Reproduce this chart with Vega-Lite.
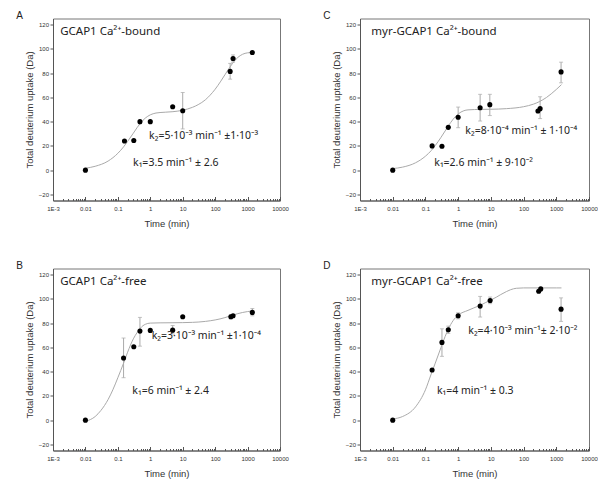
{
  "$schema": "https://vega.github.io/schema/vega-lite/v6.json",
  "background": "white",
  "padding": {"left": 15, "top": 9.5, "right": 0, "bottom": 0},
  "columns": 2,
  "spacing": {"column": 33, "row": 31},
  "datasets": {
    "ptsA": [
      {"t": 0.01, "v": 0}, {"t": 0.16, "v": 24}, {"t": 0.31, "v": 24.4}, {"t": 0.48, "v": 40}, {"t": 1, "v": 40},
      {"t": 4.9, "v": 52.3}, {"t": 10, "v": 49, "lo": 34, "hi": 64}, {"t": 290, "v": 81.4, "lo": 75, "hi": 88},
      {"t": 357, "v": 92, "lo": 89, "hi": 95}, {"t": 1400, "v": 97}
    ],
    "fitA": [
      {"t": 0.01, "v": 1.6}, {"t": 0.02, "v": 3.2}, {"t": 0.05, "v": 7.5}, {"t": 0.1, "v": 13.9}, {"t": 0.15, "v": 19.2},
      {"t": 0.2, "v": 23.7}, {"t": 0.3, "v": 30.5}, {"t": 0.4, "v": 35.4}, {"t": 0.5, "v": 38.8}, {"t": 0.7, "v": 42.9},
      {"t": 1, "v": 45.6}, {"t": 1.5, "v": 47.1}, {"t": 2, "v": 47.5}, {"t": 3, "v": 47.8}, {"t": 5, "v": 48.2},
      {"t": 10, "v": 49.4}, {"t": 20, "v": 51.8}, {"t": 30, "v": 54}, {"t": 50, "v": 58}, {"t": 70, "v": 61.8},
      {"t": 100, "v": 66.7}, {"t": 150, "v": 73.4}, {"t": 200, "v": 78.6}, {"t": 300, "v": 85.8}, {"t": 400, "v": 90.2},
      {"t": 500, "v": 92.9}, {"t": 700, "v": 95.5}, {"t": 1000, "v": 96.7}, {"t": 1440, "v": 97}
    ],
    "ptsC": [
      {"t": 0.01, "v": 0}, {"t": 0.16, "v": 20}, {"t": 0.32, "v": 19.7}, {"t": 0.5, "v": 35.3},
      {"t": 1, "v": 43.6, "lo": 35, "hi": 52}, {"t": 4.7, "v": 51.5, "lo": 40.5, "hi": 62.5},
      {"t": 9.3, "v": 54, "lo": 45, "hi": 62.5}, {"t": 275, "v": 48.8}, {"t": 320, "v": 50.7, "lo": 42.5, "hi": 60.5},
      {"t": 1400, "v": 81, "lo": 72, "hi": 89}
    ],
    "fitC": [
      {"t": 0.01, "v": 1.3}, {"t": 0.02, "v": 2.5}, {"t": 0.05, "v": 6.1}, {"t": 0.1, "v": 11.5}, {"t": 0.15, "v": 16.1},
      {"t": 0.2, "v": 20.3}, {"t": 0.3, "v": 27.1}, {"t": 0.4, "v": 32.3}, {"t": 0.5, "v": 36.4}, {"t": 0.7, "v": 41.9},
      {"t": 1, "v": 46.3}, {"t": 1.5, "v": 49}, {"t": 2, "v": 49.7}, {"t": 5, "v": 50.1}, {"t": 10, "v": 50.2},
      {"t": 30, "v": 50.7}, {"t": 100, "v": 52.3}, {"t": 200, "v": 54.4}, {"t": 300, "v": 56.4}, {"t": 500, "v": 59.9},
      {"t": 700, "v": 62.9}, {"t": 1000, "v": 66.5}, {"t": 1440, "v": 70.5}
    ],
    "ptsB": [
      {"t": 0.01, "v": 0}, {"t": 0.15, "v": 51.2, "lo": 35, "hi": 67.7}, {"t": 0.31, "v": 60.5},
      {"t": 0.48, "v": 73.4, "lo": 61, "hi": 84.7}, {"t": 1, "v": 74}, {"t": 4.9, "v": 74.2, "lo": 71, "hi": 78},
      {"t": 10, "v": 85.2}, {"t": 305, "v": 85.2, "lo": 83.5, "hi": 87}, {"t": 357, "v": 86},
      {"t": 1400, "v": 88.8, "lo": 86, "hi": 92}
    ],
    "fitB": [
      {"t": 0.01, "v": -1}, {"t": 0.02, "v": 3}, {"t": 0.03, "v": 8}, {"t": 0.05, "v": 17}, {"t": 0.07, "v": 25},
      {"t": 0.1, "v": 35}, {"t": 0.15, "v": 47}, {"t": 0.2, "v": 56}, {"t": 0.3, "v": 67}, {"t": 0.4, "v": 72.5},
      {"t": 0.5, "v": 76}, {"t": 0.7, "v": 79}, {"t": 1, "v": 80}, {"t": 2, "v": 80.2}, {"t": 5, "v": 80.3},
      {"t": 10, "v": 80.4}, {"t": 20, "v": 80.6}, {"t": 50, "v": 81.4}, {"t": 100, "v": 82.6}, {"t": 200, "v": 84.5},
      {"t": 300, "v": 86}, {"t": 500, "v": 87.8}, {"t": 1000, "v": 89.5}, {"t": 1440, "v": 90}
    ],
    "ptsD": [
      {"t": 0.01, "v": 0}, {"t": 0.16, "v": 41.4}, {"t": 0.32, "v": 64.1, "lo": 52.6, "hi": 75.3},
      {"t": 0.5, "v": 74.5, "lo": 71.5, "hi": 77.5}, {"t": 1, "v": 86, "lo": 83.5, "hi": 88.5},
      {"t": 4.7, "v": 94, "lo": 85, "hi": 102}, {"t": 9.5, "v": 98.6, "lo": 96, "hi": 101.5},
      {"t": 290, "v": 106.3}, {"t": 335, "v": 108.2}, {"t": 1400, "v": 91.5, "lo": 81.4, "hi": 100.8}
    ],
    "fitD": [
      {"t": 0.01, "v": 1}, {"t": 0.02, "v": 3}, {"t": 0.05, "v": 11}, {"t": 0.1, "v": 25}, {"t": 0.15, "v": 38},
      {"t": 0.2, "v": 47}, {"t": 0.3, "v": 60}, {"t": 0.4, "v": 69}, {"t": 0.5, "v": 75}, {"t": 0.7, "v": 82},
      {"t": 1, "v": 86.5}, {"t": 2, "v": 90.5}, {"t": 3, "v": 92.5}, {"t": 5, "v": 95}, {"t": 7, "v": 97},
      {"t": 10, "v": 99}, {"t": 15, "v": 101.5}, {"t": 20, "v": 103.5}, {"t": 30, "v": 106}, {"t": 40, "v": 107.5},
      {"t": 60, "v": 108.7}, {"t": 100, "v": 109}, {"t": 300, "v": 109}, {"t": 1000, "v": 109}, {"t": 1440, "v": 109}
    ],
    "notes": [
      {"panel": "A", "kind": "name", "t": 0.00166, "v": 111, "label": "GCAP1 Ca²⁺-bound"},
      {"panel": "A", "kind": "k", "t": 0.92, "v": 26, "label": "k₂=5·10⁻³ min⁻¹ ±1·10⁻³"},
      {"panel": "A", "kind": "k", "t": 0.295, "v": 3.3, "label": "k₁=3.5 min⁻¹ ± 2.6"},
      {"panel": "C", "kind": "name", "t": 0.00222, "v": 111, "label": "myr-GCAP1 Ca²⁺-bound"},
      {"panel": "C", "kind": "k", "t": 1.66, "v": 30.2, "label": "k₂=8·10⁻⁴ min⁻¹ ± 1·10⁻⁴"},
      {"panel": "C", "kind": "k", "t": 0.187, "v": 3.3, "label": "k₁=2.6 min⁻¹ ± 9·10⁻²"},
      {"panel": "B", "kind": "name", "t": 0.00166, "v": 111.2, "label": "GCAP1 Ca²⁺-free"},
      {"panel": "B", "kind": "k", "t": 1.11, "v": 66.5, "label": "k₂=3·10⁻³ min⁻¹ ±1·10⁻⁴"},
      {"panel": "B", "kind": "k", "t": 0.28, "v": 21.9, "label": "k₁=6 min⁻¹ ± 2.4"},
      {"panel": "D", "kind": "name", "t": 0.00222, "v": 111.2, "label": "myr-GCAP1 Ca²⁺-free"},
      {"panel": "D", "kind": "k", "t": 2.05, "v": 71.4, "label": "k₂=4·10⁻³ min⁻¹± 2·10⁻²"},
      {"panel": "D", "kind": "k", "t": 0.226, "v": 21.9, "label": "k₁=4 min⁻¹ ± 0.3"}
    ]
  },
  "concat": [
    {
      "width": 227, "height": 182,
      "title": {"text": "A", "anchor": "start", "frame": "bounds", "offset": 0, "dx": -8, "dy": 2},
      "encoding": {
        "x": {"field": "t", "type": "quantitative", "scale": {"type": "log", "domain": [0.001, 10000], "nice": false},
          "axis": {"title": "Time (min)", "values": [0.001,0.002,0.003,0.004,0.005,0.006,0.007,0.008,0.009,0.01,0.02,0.03,0.04,0.05,0.06,0.07,0.08,0.09,0.1,0.2,0.3,0.4,0.5,0.6,0.7,0.8,0.9,1,2,3,4,5,6,7,8,9,10,20,30,40,50,60,70,80,90,100,200,300,400,500,600,700,800,900,1000,2000,3000,4000,5000,6000,7000,8000,9000,10000],
            "labelExpr": "abs(log(datum.value)/LN10 - round(log(datum.value)/LN10)) < 0.001 ? (datum.value < 0.005 ? '1E-3' : '' + datum.value) : ''",
            "tickSize": {"condition": {"test": "abs(log(datum.value)/LN10 - round(log(datum.value)/LN10)) < 0.001", "value": -4}, "value": -2},
            "labelPadding": 9, "labelOverlap": false, "labelFlush": false, "titlePadding": 5}},
        "y": {"field": "v", "type": "quantitative", "scale": {"domain": [-25, 125], "nice": false, "zero": false},
          "axis": {"title": "Total deuterium uptake (Da)", "values": [-20,0,20,40,60,80,100,120], "tickSize": 3, "labelPadding": 1.5, "titlePadding": 4}}
      },
      "layer": [
        {"data": {"name": "fitA"}, "mark": {"type": "line", "color": "#aaaaaa", "strokeWidth": 1, "interpolate": "monotone"}},
        {"data": {"name": "ptsA"}, "mark": {"type": "rule", "color": "#aaaaaa", "strokeWidth": 1},
          "encoding": {"y": {"field": "lo", "type": "quantitative"}, "y2": {"field": "hi"}}},
        {"data": {"name": "ptsA"}, "mark": {"type": "tick", "orient": "horizontal", "size": 4, "thickness": 1, "color": "#aaaaaa"},
          "encoding": {"y": {"field": "lo", "type": "quantitative"}}},
        {"data": {"name": "ptsA"}, "mark": {"type": "tick", "orient": "horizontal", "size": 4, "thickness": 1, "color": "#aaaaaa"},
          "encoding": {"y": {"field": "hi", "type": "quantitative"}}},
        {"data": {"name": "ptsA"}, "mark": {"type": "circle", "size": 26, "color": "black", "opacity": 1}},
        {"data": {"name": "notes"}, "transform": [{"filter": "datum.panel == 'A' && datum.kind == 'name'"}],
          "mark": {"type": "text", "align": "left", "baseline": "alphabetic", "font": "Noto Sans", "fontSize": 11.5, "color": "#222222"},
          "encoding": {"text": {"field": "label", "type": "nominal"}}},
        {"data": {"name": "notes"}, "transform": [{"filter": "datum.panel == 'A' && datum.kind == 'k'"}],
          "mark": {"type": "text", "align": "left", "baseline": "alphabetic", "font": "Noto Sans", "fontSize": 10.5, "color": "#222222"},
          "encoding": {"text": {"field": "label", "type": "nominal"}}}
      ]
    },
    {
      "width": 229, "height": 182,
      "title": {"text": "C", "anchor": "start", "frame": "bounds", "offset": 0, "dx": -8, "dy": 2},
      "encoding": {
        "x": {"field": "t", "type": "quantitative", "scale": {"type": "log", "domain": [0.001, 10000], "nice": false},
          "axis": {"title": "Time (min)", "values": [0.001,0.002,0.003,0.004,0.005,0.006,0.007,0.008,0.009,0.01,0.02,0.03,0.04,0.05,0.06,0.07,0.08,0.09,0.1,0.2,0.3,0.4,0.5,0.6,0.7,0.8,0.9,1,2,3,4,5,6,7,8,9,10,20,30,40,50,60,70,80,90,100,200,300,400,500,600,700,800,900,1000,2000,3000,4000,5000,6000,7000,8000,9000,10000],
            "labelExpr": "abs(log(datum.value)/LN10 - round(log(datum.value)/LN10)) < 0.001 ? (datum.value < 0.005 ? '1E-3' : '' + datum.value) : ''",
            "tickSize": {"condition": {"test": "abs(log(datum.value)/LN10 - round(log(datum.value)/LN10)) < 0.001", "value": -4}, "value": -2},
            "labelPadding": 9, "labelOverlap": false, "labelFlush": false, "titlePadding": 5}},
        "y": {"field": "v", "type": "quantitative", "scale": {"domain": [-25, 125], "nice": false, "zero": false},
          "axis": {"title": "Total deuterium uptake (Da)", "values": [-20,0,20,40,60,80,100,120], "tickSize": 3, "labelPadding": 1.5, "titlePadding": 4}}
      },
      "layer": [
        {"data": {"name": "fitC"}, "mark": {"type": "line", "color": "#aaaaaa", "strokeWidth": 1, "interpolate": "monotone"}},
        {"data": {"name": "ptsC"}, "mark": {"type": "rule", "color": "#aaaaaa", "strokeWidth": 1},
          "encoding": {"y": {"field": "lo", "type": "quantitative"}, "y2": {"field": "hi"}}},
        {"data": {"name": "ptsC"}, "mark": {"type": "tick", "orient": "horizontal", "size": 4, "thickness": 1, "color": "#aaaaaa"},
          "encoding": {"y": {"field": "lo", "type": "quantitative"}}},
        {"data": {"name": "ptsC"}, "mark": {"type": "tick", "orient": "horizontal", "size": 4, "thickness": 1, "color": "#aaaaaa"},
          "encoding": {"y": {"field": "hi", "type": "quantitative"}}},
        {"data": {"name": "ptsC"}, "mark": {"type": "circle", "size": 26, "color": "black", "opacity": 1}},
        {"data": {"name": "notes"}, "transform": [{"filter": "datum.panel == 'C' && datum.kind == 'name'"}],
          "mark": {"type": "text", "align": "left", "baseline": "alphabetic", "font": "Noto Sans", "fontSize": 11.5, "color": "#222222"},
          "encoding": {"text": {"field": "label", "type": "nominal"}}},
        {"data": {"name": "notes"}, "transform": [{"filter": "datum.panel == 'C' && datum.kind == 'k'"}],
          "mark": {"type": "text", "align": "left", "baseline": "alphabetic", "font": "Noto Sans", "fontSize": 10.5, "color": "#222222"},
          "encoding": {"text": {"field": "label", "type": "nominal"}}}
      ]
    },
    {
      "width": 227, "height": 182,
      "title": {"text": "B", "anchor": "start", "frame": "bounds", "offset": 0, "dx": -8, "dy": 2},
      "encoding": {
        "x": {"field": "t", "type": "quantitative", "scale": {"type": "log", "domain": [0.001, 10000], "nice": false},
          "axis": {"title": "Time (min)", "values": [0.001,0.002,0.003,0.004,0.005,0.006,0.007,0.008,0.009,0.01,0.02,0.03,0.04,0.05,0.06,0.07,0.08,0.09,0.1,0.2,0.3,0.4,0.5,0.6,0.7,0.8,0.9,1,2,3,4,5,6,7,8,9,10,20,30,40,50,60,70,80,90,100,200,300,400,500,600,700,800,900,1000,2000,3000,4000,5000,6000,7000,8000,9000,10000],
            "labelExpr": "abs(log(datum.value)/LN10 - round(log(datum.value)/LN10)) < 0.001 ? (datum.value < 0.005 ? '1E-3' : '' + datum.value) : ''",
            "tickSize": {"condition": {"test": "abs(log(datum.value)/LN10 - round(log(datum.value)/LN10)) < 0.001", "value": -4}, "value": -2},
            "labelPadding": 9, "labelOverlap": false, "labelFlush": false, "titlePadding": 5}},
        "y": {"field": "v", "type": "quantitative", "scale": {"domain": [-25, 125], "nice": false, "zero": false},
          "axis": {"title": "Total deuterium uptake (Da)", "values": [-20,0,20,40,60,80,100,120], "tickSize": 3, "labelPadding": 1.5, "titlePadding": 4}}
      },
      "layer": [
        {"data": {"name": "fitB"}, "mark": {"type": "line", "color": "#aaaaaa", "strokeWidth": 1, "interpolate": "monotone"}},
        {"data": {"name": "ptsB"}, "mark": {"type": "rule", "color": "#aaaaaa", "strokeWidth": 1},
          "encoding": {"y": {"field": "lo", "type": "quantitative"}, "y2": {"field": "hi"}}},
        {"data": {"name": "ptsB"}, "mark": {"type": "tick", "orient": "horizontal", "size": 4, "thickness": 1, "color": "#aaaaaa"},
          "encoding": {"y": {"field": "lo", "type": "quantitative"}}},
        {"data": {"name": "ptsB"}, "mark": {"type": "tick", "orient": "horizontal", "size": 4, "thickness": 1, "color": "#aaaaaa"},
          "encoding": {"y": {"field": "hi", "type": "quantitative"}}},
        {"data": {"name": "ptsB"}, "mark": {"type": "circle", "size": 26, "color": "black", "opacity": 1}},
        {"data": {"name": "notes"}, "transform": [{"filter": "datum.panel == 'B' && datum.kind == 'name'"}],
          "mark": {"type": "text", "align": "left", "baseline": "alphabetic", "font": "Noto Sans", "fontSize": 11.5, "color": "#222222"},
          "encoding": {"text": {"field": "label", "type": "nominal"}}},
        {"data": {"name": "notes"}, "transform": [{"filter": "datum.panel == 'B' && datum.kind == 'k'"}],
          "mark": {"type": "text", "align": "left", "baseline": "alphabetic", "font": "Noto Sans", "fontSize": 10.5, "color": "#222222"},
          "encoding": {"text": {"field": "label", "type": "nominal"}}}
      ]
    },
    {
      "width": 229, "height": 182,
      "title": {"text": "D", "anchor": "start", "frame": "bounds", "offset": 0, "dx": -8, "dy": 2},
      "encoding": {
        "x": {"field": "t", "type": "quantitative", "scale": {"type": "log", "domain": [0.001, 10000], "nice": false},
          "axis": {"title": "Time (min)", "values": [0.001,0.002,0.003,0.004,0.005,0.006,0.007,0.008,0.009,0.01,0.02,0.03,0.04,0.05,0.06,0.07,0.08,0.09,0.1,0.2,0.3,0.4,0.5,0.6,0.7,0.8,0.9,1,2,3,4,5,6,7,8,9,10,20,30,40,50,60,70,80,90,100,200,300,400,500,600,700,800,900,1000,2000,3000,4000,5000,6000,7000,8000,9000,10000],
            "labelExpr": "abs(log(datum.value)/LN10 - round(log(datum.value)/LN10)) < 0.001 ? (datum.value < 0.005 ? '1E-3' : '' + datum.value) : ''",
            "tickSize": {"condition": {"test": "abs(log(datum.value)/LN10 - round(log(datum.value)/LN10)) < 0.001", "value": -4}, "value": -2},
            "labelPadding": 9, "labelOverlap": false, "labelFlush": false, "titlePadding": 5}},
        "y": {"field": "v", "type": "quantitative", "scale": {"domain": [-25, 125], "nice": false, "zero": false},
          "axis": {"title": "Total deuterium uptake (Da)", "values": [-20,0,20,40,60,80,100,120], "tickSize": 3, "labelPadding": 1.5, "titlePadding": 4}}
      },
      "layer": [
        {"data": {"name": "fitD"}, "mark": {"type": "line", "color": "#aaaaaa", "strokeWidth": 1, "interpolate": "monotone"}},
        {"data": {"name": "ptsD"}, "mark": {"type": "rule", "color": "#aaaaaa", "strokeWidth": 1},
          "encoding": {"y": {"field": "lo", "type": "quantitative"}, "y2": {"field": "hi"}}},
        {"data": {"name": "ptsD"}, "mark": {"type": "tick", "orient": "horizontal", "size": 4, "thickness": 1, "color": "#aaaaaa"},
          "encoding": {"y": {"field": "lo", "type": "quantitative"}}},
        {"data": {"name": "ptsD"}, "mark": {"type": "tick", "orient": "horizontal", "size": 4, "thickness": 1, "color": "#aaaaaa"},
          "encoding": {"y": {"field": "hi", "type": "quantitative"}}},
        {"data": {"name": "ptsD"}, "mark": {"type": "circle", "size": 26, "color": "black", "opacity": 1}},
        {"data": {"name": "notes"}, "transform": [{"filter": "datum.panel == 'D' && datum.kind == 'name'"}],
          "mark": {"type": "text", "align": "left", "baseline": "alphabetic", "font": "Noto Sans", "fontSize": 11.5, "color": "#222222"},
          "encoding": {"text": {"field": "label", "type": "nominal"}}},
        {"data": {"name": "notes"}, "transform": [{"filter": "datum.panel == 'D' && datum.kind == 'k'"}],
          "mark": {"type": "text", "align": "left", "baseline": "alphabetic", "font": "Noto Sans", "fontSize": 10.5, "color": "#222222"},
          "encoding": {"text": {"field": "label", "type": "nominal"}}}
      ]
    }
  ],
  "config": {
    "view": {"stroke": "#777777", "strokeWidth": 1},
    "title": {"font": "Liberation Sans", "fontSize": 10, "fontWeight": "normal", "color": "#222"},
    "axis": {
      "grid": false, "labelFont": "Liberation Sans", "labelFontSize": 6, "labelColor": "#333",
      "titleFont": "Liberation Sans", "titleFontSize": 9.5, "titleFontWeight": "normal", "titleColor": "#333",
      "domainColor": "#555", "tickColor": "#555"
    }
  }
}
